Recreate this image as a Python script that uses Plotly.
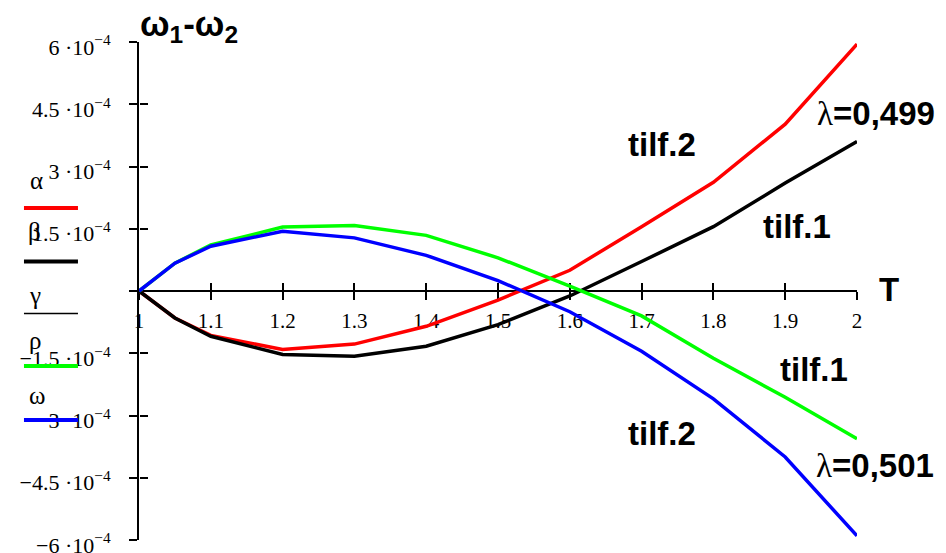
import plotly.graph_objects as go

# Temperature ratio T and the frequency difference ω1-ω2 (in units of 1e-4)
T = [1.0, 1.05, 1.1, 1.2, 1.3, 1.4, 1.5, 1.6, 1.7, 1.8, 1.9, 2.0]
alpha = [0.0, -0.65, -1.07, -1.41, -1.28, -0.85, -0.22, 0.50, 1.55, 2.62, 4.02, 5.95]
beta = [0.0, -0.65, -1.09, -1.53, -1.57, -1.33, -0.81, -0.12, 0.71, 1.55, 2.60, 3.60]
rho = [0.0, 0.67, 1.11, 1.54, 1.58, 1.34, 0.80, 0.12, -0.60, -1.62, -2.56, -3.56]
omega = [0.0, 0.67, 1.08, 1.44, 1.28, 0.86, 0.25, -0.50, -1.45, -2.60, -4.00, -5.90]
SCALE = 1e-4

x_ticks = [1.0, 1.1, 1.2, 1.3, 1.4, 1.5, 1.6, 1.7, 1.8, 1.9, 2.0]
x_labels = ["1", "1.1", "1.2", "1.3", "1.4", "1.5", "1.6", "1.7", "1.8", "1.9", "2"]
y_ticks = [6, 4.5, 3, 1.5, 0, -1.5, -3, -4.5, -6]

legend_names = ["α", "β", "γ", "ρ", "ω"]
legend_colors = ["#ff0000", "#000000", "#000000", "#00ff00", "#0000ff"]
legend_widths = [4, 4, 1.5, 4, 4]


def y_label(v):
    if v == 0:
        return ""
    num = ("%g" % abs(v))
    sign = "−" if v < 0 else ""
    return f"{sign}{num} ·10<sup>−4</sup>"


SERIF = "Liberation Serif, Times New Roman, serif"
SANS = "Liberation Sans, Arial, sans-serif"

fig = go.Figure()
series = [(alpha, "#ff0000"), (beta, "#000000"), (rho, "#00ff00"), (omega, "#0000ff")]
for vals, col in series:
    fig.add_trace(go.Scatter(
        x=T, y=[v * SCALE for v in vals], mode="lines",
        line=dict(color=col, width=3.5), showlegend=False, hoverinfo="skip",
    ))

# empty trace so the companion axes (inner half of the crossing ticks) are drawn
fig.add_trace(go.Scatter(x=[], y=[], xaxis="x2", yaxis="y2", showlegend=False))

axis_common = dict(showgrid=False, zeroline=False, color="black", automargin=False)
yr = [-6 * SCALE, 6 * SCALE]

fig.update_layout(
    width=946, height=553,
    margin=dict(l=139, r=89, t=42, b=13, autoexpand=False),
    paper_bgcolor="white", plot_bgcolor="white",
    xaxis=dict(
        range=[1, 2], anchor="free", position=0.5,
        showline=True, linecolor="black", linewidth=2,
        ticks="outside", ticklen=8, tickwidth=2, tickcolor="black",
        tickvals=x_ticks, ticktext=x_labels,
        tickfont=dict(family=SERIF, size=21, color="black"),
        ticklabelstandoff=3, ticklabeloverflow="allow",
        layer="below traces", **axis_common,
    ),
    xaxis2=dict(
        range=[1, 2], overlaying="x", anchor="free", position=0.5,
        showline=False, ticks="inside", ticklen=8, tickwidth=2, tickcolor="black",
        tickvals=x_ticks, showticklabels=False, layer="below traces", **axis_common,
    ),
    yaxis=dict(
        range=yr, anchor="x",
        showline=True, linecolor="black", linewidth=2,
        ticks="outside", ticklen=8, tickwidth=2, tickcolor="black",
        tickvals=[v * SCALE for v in y_ticks], ticktext=[y_label(v) for v in y_ticks],
        tickfont=dict(family=SERIF, size=22, color="black"),
        ticklabelstandoff=14, ticklabelshift=5, ticklabeloverflow="allow",
        layer="below traces", **axis_common,
    ),
    yaxis2=dict(
        range=yr, overlaying="y", anchor="free", position=0,
        showline=False, ticks="inside", ticklen=8, tickwidth=2, tickcolor="black",
        tickvals=[v * SCALE for v in y_ticks], showticklabels=False,
        layer="below traces", **axis_common,
    ),
)

# legend keys: symbol name above a short line sample
legend_text_pos = [(-0.1421, 0.7209), (-0.1462, 0.6185), (-0.1448, 0.4900),
                   (-0.1448, 0.3996), (-0.1421, 0.2892)]
legend_line_y = [0.6667, 0.5592, 0.4548, 0.3494, 0.2410]
for name, col, w, (tx, ty), ly in zip(legend_names, legend_colors, legend_widths,
                                      legend_text_pos, legend_line_y):
    fig.add_annotation(x=tx, y=ty, xref="paper", yref="paper", text=name,
                       showarrow=False, xanchor="center", yanchor="middle",
                       font=dict(family=SERIF, size=25, color="black"))
    fig.add_shape(type="line", xref="paper", yref="paper",
                  x0=-0.1602, x1=-0.0850, y0=ly, y1=ly,
                  line=dict(color=col, width=w))

BOLD = dict(family=SANS, size=33, color="black")
LAMBDA = f'<span style="font-family:{SERIF}">λ</span>'
labels = [
    ("<b>tilf.2</b>", 0.7284, 0.7932),
    (LAMBDA + "<b>=0,499</b>", 1.0265, 0.8574),
    ("<b>tilf.1</b>", 0.9164, 0.6305),
    ("<b>tilf.1</b>", 0.9401, 0.3414),
    ("<b>tilf.2</b>", 0.7284, 0.2129),
    (LAMBDA + "<b>=0,501</b>", 1.0251, 0.1486),
    ("<b>T</b>", 1.0446, 0.5040),
]
for txt, px, py in labels:
    fig.add_annotation(x=px, y=py, xref="paper", yref="paper", text=txt,
                       showarrow=False, xanchor="center", yanchor="middle", font=BOLD)

fig.add_annotation(x=-0.0014, y=1.032, xref="paper", yref="paper",
                   text="<b>ω<sub>1</sub>-ω<sub>2</sub></b>", showarrow=False,
                   xanchor="left", yanchor="middle",
                   font=dict(family=SANS, size=35, color="black"))

fig.write_html("out.html")
